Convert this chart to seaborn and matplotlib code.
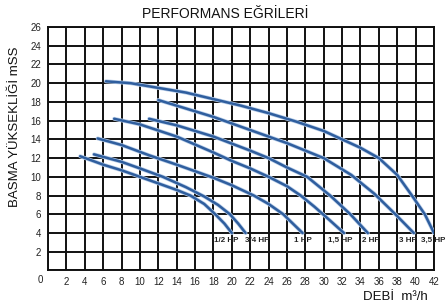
import matplotlib
matplotlib.use("Agg")
import matplotlib.pyplot as plt
import seaborn as sns
import pandas as pd
import numpy as np

# ---- data ----
hp_labels = ["1/2 HP", "3/4 HP", "1 HP", "1,5 HP", "2 HP", "3 HP", "3,5 HP"]

q_half = [3.5, 6, 8, 10, 12, 14, 15.5, 17, 18.2, 19.2, 20.0]
h_half = [12.2, 11.3, 10.7, 10.0, 9.3, 8.6, 8.0, 7.1, 6.0, 5.0, 4.0]

q_34 = [5, 8, 10, 12.5, 15, 17, 18.5, 19.8, 20.7, 21.5]
h_34 = [12.4, 11.6, 10.9, 10.0, 8.9, 7.9, 7.0, 6.0, 5.0, 4.0]

q_1 = [5.4, 8, 11, 14, 18, 20, 22.4, 24, 25.6, 27.7]
h_1 = [14.1, 13.4, 12.3, 11.3, 9.9, 9.1, 8.0, 7.1, 6.0, 4.0]

q_15 = [7.2, 10, 14, 18, 20, 22, 24, 26, 27.5, 29, 30.5, 32.2]
h_15 = [16.2, 15.6, 14.3, 12.6, 11.7, 10.9, 10.0, 9.0, 8.0, 6.8, 5.5, 4.0]

q_2 = [11, 14, 18, 22, 24, 26, 28.2, 30.7, 32.9, 34.8]
h_2 = [16.2, 15.5, 14.3, 12.8, 12.0, 11.0, 10.0, 8.0, 6.0, 4.0]

q_3 = [12, 15, 18, 22, 26, 30, 33, 35.5, 37.8, 39.8]
h_3 = [18.2, 17.3, 16.4, 15.0, 13.6, 12.0, 10.2, 8.2, 6.0, 4.0]

q_35 = [6.3, 9, 12, 15, 18, 21, 24, 27, 30, 32, 34, 36, 38, 39.6, 41, 42]
h_35 = [20.2, 20.0, 19.5, 19.0, 18.3, 17.6, 16.8, 15.9, 14.9, 14.0, 13.1, 12.0, 10.2, 8.0, 6.0, 4.0]

label_x = [19.4, 22.8, 27.7, 31.8, 35.1, 39.2, 41.9]

x_ticks = list(range(2, 43, 2))
y_ticks = list(range(2, 27, 2))

series_q = [q_half, q_34, q_1, q_15, q_2, q_3, q_35]
series_h = [h_half, h_34, h_1, h_15, h_2, h_3, h_35]

rows = []
for name, qs, hs in zip(hp_labels, series_q, series_h):
    for i, (q, h) in enumerate(zip(qs, hs)):
        rows.append({"pump": name, "order": i, "q": q, "h": h})
df = pd.DataFrame(rows)

# ---- style ----
sns.set_style("white")
fam = ["Liberation Sans Narrow", "Liberation Sans", "DejaVu Sans"]
plt.rcParams["font.family"] = fam

fig = plt.figure(figsize=(4.45, 3.08), dpi=100)
ax = fig.add_axes([0.1079, 0.1218, 0.8674, 0.7905])

line_color = "#2f5e9e"
for name in hp_labels:
    sub = df[df["pump"] == name]
    sns.lineplot(data=sub, x="q", y="h", sort=False, estimator=None,
                 color="#b7cde9", linewidth=2.8, ax=ax, zorder=3)
    sns.lineplot(data=sub, x="q", y="h", sort=False, estimator=None,
                 color=line_color, linewidth=1.8, ax=ax, zorder=4)

ax.set_xlim(0, 42)
ax.set_ylim(0, 26)
ax.set_xticks([0] + x_ticks)
ax.set_yticks([0] + y_ticks)
ax.grid(True, color="#111111", linewidth=1.4)
ax.set_axisbelow(True)
for s in ax.spines.values():
    s.set_color("#111111")
    s.set_linewidth(1.4)
ax.tick_params(length=0, labelsize=7, colors="#222222", pad=5)
ax.set_xticklabels([""] + [str(v) for v in x_ticks])
ax.set_yticklabels([""] + [str(v) for v in y_ticks])
ax.set_xlabel("")
ax.set_ylabel("")

# corner zero
fig.text(40 / 445, 1 - 280 / 308, "0", ha="center", va="center",
         fontsize=7, color="#222222")

# HP labels
for lbl, lx in zip(hp_labels, label_x):
    ax.text(lx, 3.2, lbl, ha="center", va="center", fontsize=5.8,
            fontweight="bold", color="#222222", zorder=5, clip_on=False)

fig.text(225 / 445, 1 - 14 / 308, "PERFORMANS EĞRİLERİ", ha="center",
         va="center", fontsize=10, color="#111111")
fig.text(15 / 445, 1 - 127 / 308, "BASMA YÜKSEKLİĞİ mSS", ha="center",
         va="center", rotation=90, fontsize=9.5, color="#111111")
fig.text(395 / 445, 1 - 297 / 308, "DEBİ  m³/h", ha="center",
         va="center", fontsize=9.5, color="#111111")

fig.savefig("out.png", dpi=100)
